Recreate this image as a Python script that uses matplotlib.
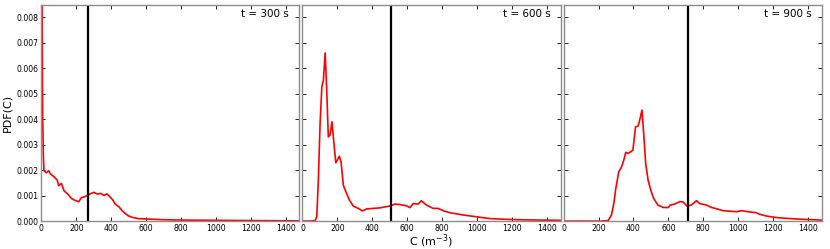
import matplotlib
matplotlib.use("Agg")
import matplotlib.pyplot as plt

# PDF of concentration at three times
c_300 = [0, 4, 8, 12, 15, 29, 42, 53, 73, 91, 99, 115, 130, 153, 172, 191, 214, 229,
         248, 268, 286, 301, 321, 339, 359, 376, 392, 410, 423, 445, 462, 481, 500,
         525, 554, 611, 726, 820, 1025, 1230, 1475]
pdf_300 = [0.0095, 0.0086, 0.004, 0.0025, 0.00198, 0.0019, 0.00198, 0.00185, 0.00174,
           0.00161, 0.00139, 0.00148, 0.00119, 0.00105, 0.00089, 0.00082, 0.00076,
           0.00092, 0.00096, 0.00102, 0.00109, 0.00113, 0.00106, 0.00109, 0.00101,
           0.00107, 0.00096, 0.00082, 0.00067, 0.00056, 0.00041, 0.0003, 0.0002,
           0.00014, 0.0001, 0.00008, 0.00005, 0.00004, 0.00003, 0.00002, 0.00001]

c_600 = [0, 44, 73, 82, 91, 101, 111, 120, 130, 139, 148, 158, 169, 182, 191, 200, 211,
         221, 234, 249, 269, 291, 320, 343, 368, 406, 444, 473, 501, 529, 558, 596,
         615, 635, 663, 681, 710, 748, 777, 805, 844, 920, 996, 1072, 1167, 1262, 1475]
pdf_600 = [0, 0, 0.00002, 0.00017, 0.0016, 0.00384, 0.00528, 0.00554, 0.00661, 0.00515,
           0.00331, 0.00338, 0.0039, 0.00292, 0.00229, 0.0024, 0.00255, 0.00233,
           0.00141, 0.00115, 0.00082, 0.00059, 0.0005, 0.0004, 0.00048, 0.0005,
           0.00052, 0.00056, 0.00059, 0.00067, 0.00065, 0.0006, 0.00053, 0.00069,
           0.00067, 0.0008, 0.00063, 0.0005, 0.0005, 0.00041, 0.00033, 0.00024,
           0.00017, 0.0001, 0.00007, 0.00005, 0.00003]

c_900 = [0, 208, 255, 274, 288, 299, 316, 332, 345, 356, 369, 384, 397, 412, 427, 436,
         449, 460, 470, 484, 499, 516, 540, 569, 598, 611, 636, 665, 683, 707, 731,
         761, 779, 817, 846, 883, 913, 951, 990, 1018, 1056, 1103, 1122, 1161, 1218,
         1294, 1371, 1475]
pdf_900 = [0, 0, 0.00002, 0.00024, 0.0007, 0.00128, 0.00194, 0.00213, 0.0024, 0.0027,
           0.00266, 0.00272, 0.00279, 0.0037, 0.00374, 0.00397, 0.00436, 0.00331,
           0.00227, 0.00161, 0.00122, 0.00089, 0.00063, 0.00054, 0.00053, 0.00063,
           0.00067, 0.00076, 0.00076, 0.00059, 0.00063, 0.0008, 0.00069, 0.00063,
           0.00054, 0.00047, 0.00041, 0.00039, 0.00037, 0.00041, 0.00037, 0.00033,
           0.00027, 0.0002, 0.00014, 0.0001, 0.00007, 0.00004]

times = ["t = 300 s", "t = 600 s", "t = 900 s"]
mean_c = [270, 506, 710]
xticks = [0, 200, 400, 600, 800, 1000, 1200, 1400]
yticks = [0.000, 0.001, 0.002, 0.003, 0.004, 0.005, 0.006, 0.007, 0.008]

series = [(c_300, pdf_300), (c_600, pdf_600), (c_900, pdf_900)]

fig, axes = plt.subplots(1, 3, figsize=(8.3, 2.49), dpi=100, sharey=True)
fig.subplots_adjust(left=0.0498, right=0.990, bottom=0.112, top=0.981, wspace=0.0116)

for i, ax in enumerate(axes):
    c, pdf = series[i]
    ax.plot(c, pdf, color='red', lw=1.2)
    ax.axvline(mean_c[i], color='black', lw=1.6)
    ax.set_xlim(0, 1478)
    ax.set_ylim(0, 0.0085)
    ax.set_xticks(xticks)
    ax.set_yticks(yticks)
    ax.tick_params(direction='in', top=True, right=True, length=3, width=0.6,
                   labelsize=5.6, pad=2)
    for sp in ax.spines.values():
        sp.set_color('#8c8c8c')
        sp.set_linewidth(1.0)
    ax.text(0.96, 0.955, times[i], transform=ax.transAxes, ha='right', va='center',
            fontsize=7.5)

axes[0].yaxis.set_major_formatter(matplotlib.ticker.FormatStrFormatter('%.3f'))
axes[0].set_ylabel("PDF(C)", fontsize=8, labelpad=3)
fig.text(0.519, 0.030, r"C (m$^{-3}$)", ha='center', va='center', fontsize=8)

plt.savefig("out.png", dpi=100)
